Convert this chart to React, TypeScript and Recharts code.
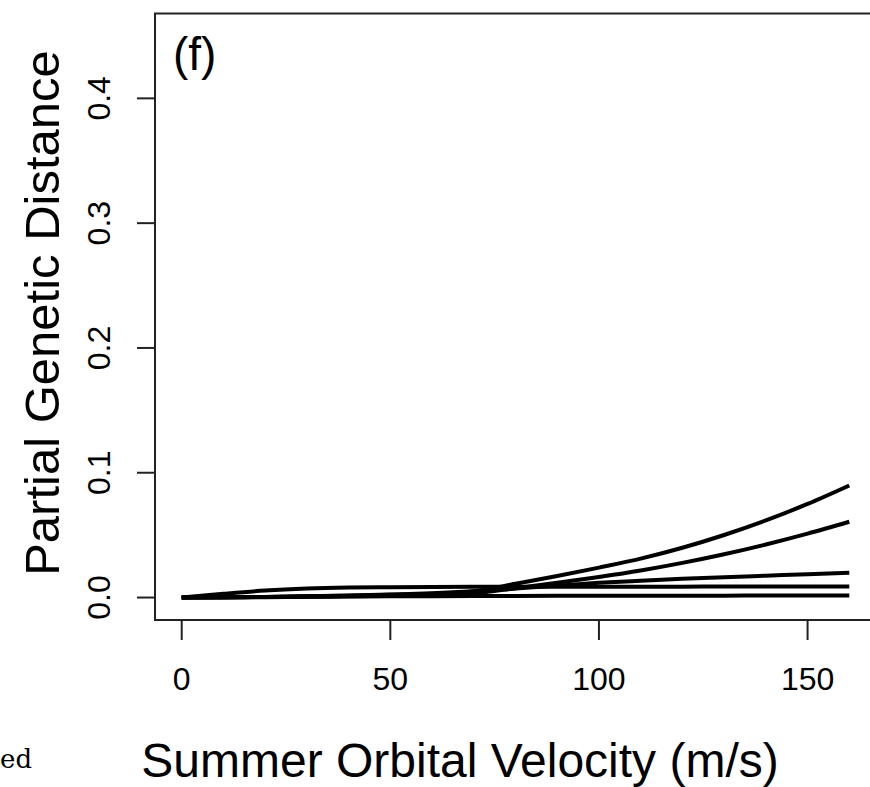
import { LineChart, Line, XAxis, YAxis, ReferenceArea } from "recharts"

const velocity = [0, 10, 20, 30, 40, 50, 60, 70, 80, 90, 100, 110, 120, 130, 140, 150, 160]

// five fitted curves, top to bottom at the right edge
const curveA = [0, 0.0002, 0.0005, 0.001, 0.0015, 0.0022, 0.003, 0.005, 0.011, 0.0172, 0.024, 0.0312, 0.0399, 0.0501, 0.0618, 0.075, 0.0898]
const curveB = [0, 0.0001, 0.0003, 0.0006, 0.001, 0.0015, 0.0022, 0.0035, 0.0075, 0.0118, 0.0165, 0.0217, 0.0278, 0.0347, 0.0425, 0.0512, 0.0607]
const curveC = [0, 0.0002, 0.0005, 0.001, 0.0016, 0.0024, 0.0034, 0.005, 0.0072, 0.0095, 0.0118, 0.0135, 0.015, 0.0163, 0.0175, 0.0187, 0.0198]
const curveD = [0, 0.003, 0.0056, 0.0072, 0.008, 0.0083, 0.0085, 0.0086, 0.0086, 0.0087, 0.0087, 0.0087, 0.0087, 0.0088, 0.0088, 0.0088, 0.0088]
const curveE = [0, 0.0002, 0.0004, 0.0006, 0.0008, 0.001, 0.0011, 0.0012, 0.0013, 0.0014, 0.0014, 0.0015, 0.0015, 0.0015, 0.0016, 0.0016, 0.0016]

const xTicks = [0, 50, 100, 150]
const yTicks = [0, 0.1, 0.2, 0.3, 0.4]

const rows = velocity.map((x, i) => ({
  x,
  a: curveA[i],
  b: curveB[i],
  c: curveC[i],
  d: curveD[i],
  e: curveE[i],
}))

const font = '"Liberation Sans", Arial, Helvetica, sans-serif'
const ink = "#000"
const xDomain: [number, number] = [-6.4, 166.4]
const yDomain: [number, number] = [-0.018, 0.468]

function XTick(props: any) {
  const { x, payload } = props
  return (
    <text x={x} y={690} textAnchor="middle" fontFamily={font} fontSize={32} fill={ink}>
      {payload.value}
    </text>
  )
}

function YTick(props: any) {
  const { y, payload } = props
  return (
    <text
      x={110}
      y={y}
      textAnchor="middle"
      fontFamily={font}
      fontSize={32}
      fill={ink}
      transform={`rotate(-90, 110, ${y})`}
    >
      {Number(payload.value).toFixed(1)}
    </text>
  )
}

export default function App() {
  const keys = ["a", "b", "c", "d", "e"]
  return (
    <div style={{ position: "absolute", left: 0, top: 0, width: 870, height: 787, overflow: "hidden", background: "#fff" }}>
      <LineChart width={900} height={787} data={rows} margin={{ top: 13.5, right: 24, bottom: 107, left: 95 }}>
        <XAxis
          type="number"
          dataKey="x"
          domain={xDomain}
          ticks={xTicks}
          allowDataOverflow
          axisLine={false}
          tickSize={20}
          tickMargin={0}
          height={60}
          tickLine={{ stroke: "#222", strokeWidth: 2 }}
          tick={XTick}
        />
        <YAxis
          type="number"
          domain={yDomain}
          ticks={yTicks}
          allowDataOverflow
          axisLine={false}
          tickSize={18}
          tickMargin={0}
          width={60}
          tickLine={{ stroke: "#222", strokeWidth: 2 }}
          tick={YTick}
        />
        <ReferenceArea
          x1={xDomain[0]}
          x2={xDomain[1]}
          y1={yDomain[0]}
          y2={yDomain[1]}
          fill="none"
          stroke="#222"
          strokeWidth={2}
          ifOverflow="visible"
        />
        {keys.map((k) => (
          <Line
            key={k}
            type="monotone"
            dataKey={k}
            stroke={ink}
            strokeWidth={4}
            dot={false}
            activeDot={false}
            isAnimationActive={false}
          />
        ))}
      </LineChart>
      <svg width={870} height={787} style={{ position: "absolute", left: 0, top: 0, pointerEvents: "none" }}>
        <text x={173} y={70} fontFamily={font} fontSize={46} fill={ink}>(f)</text>
        <text x={460} y={777} textAnchor="middle" fontFamily={font} fontSize={48} fill={ink}>
          Summer Orbital Velocity (m/s)
        </text>
        <text
          x={59}
          y={313}
          textAnchor="middle"
          fontFamily={font}
          fontSize={49}
          fill={ink}
          transform="rotate(-90, 59, 313)"
        >
          Partial Genetic Distance
        </text>
        <text x={0} y={768} fontFamily='"DejaVu Serif", serif' fontSize={26} fill={ink}>ed</text>
      </svg>
    </div>
  )
}
